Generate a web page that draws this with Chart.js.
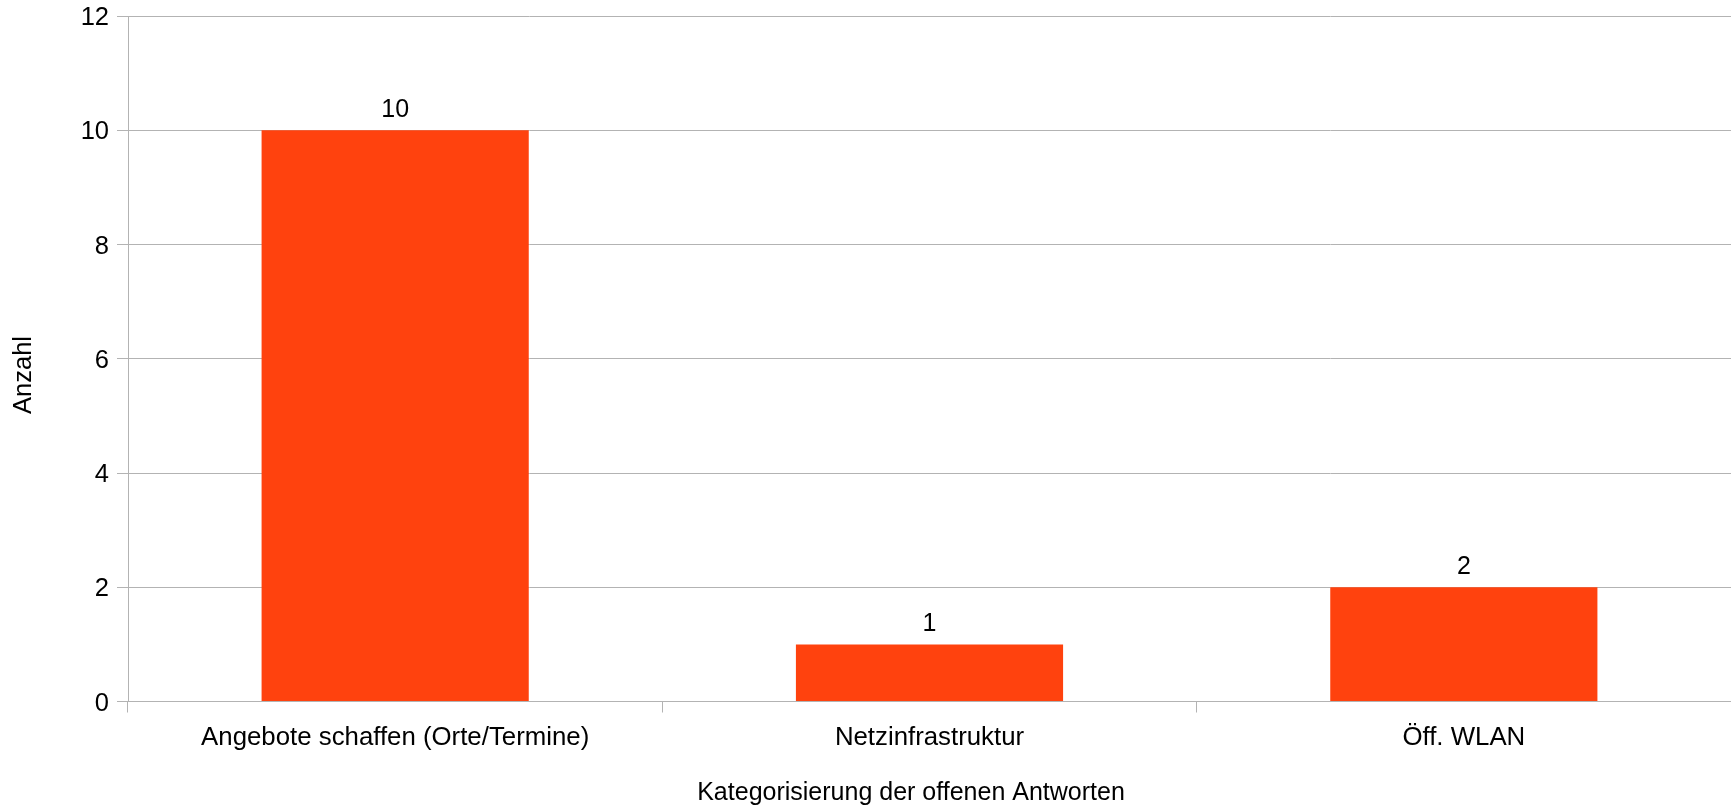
<!DOCTYPE html>
<html>
<head>
<meta charset="utf-8">
<script src="https://cdn.jsdelivr.net/npm/chart.js@4/dist/chart.umd.min.js"></script>
<style>
  html, body { margin: 0; padding: 0; background: #ffffff; }
  canvas { display: block; }
</style>
</head>
<body>
<canvas id="chart" width="1731" height="807"></canvas>
<script>
// Survey answers grouped by category
const categories = ['Angebote schaffen (Orte/Termine)', 'Netzinfrastruktur', 'Öff. WLAN'];
const counts = [10, 1, 2];
const yTickValues = [0, 2, 4, 6, 8, 10, 12];
const xAxisTitle = 'Kategorisierung der offenen Antworten';
const yAxisTitle = 'Anzahl';

const FONT_FAMILY = '"Liberation Sans", Arial, sans-serif';
const GRID_COLOR = '#b3b3b3';
const BAR_COLOR = '#ff420e';

Chart.defaults.font.family = FONT_FAMILY;
Chart.defaults.color = '#000000';

// Writes each bar's value just above it
const valueLabels = {
  id: 'valueLabels',
  afterDatasetsDraw(chart) {
    const ctx = chart.ctx;
    const meta = chart.getDatasetMeta(0);
    ctx.save();
    ctx.font = '25px ' + FONT_FAMILY;
    ctx.fillStyle = '#000000';
    ctx.textAlign = 'center';
    ctx.textBaseline = 'alphabetic';
    meta.data.forEach((bar, i) => {
      ctx.fillText(String(counts[i]), bar.x, bar.y - 13);
    });
    ctx.restore();
  }
};

// Axis titles, placed relative to the plot area
const axisTitles = {
  id: 'axisTitles',
  afterDraw(chart) {
    const ctx = chart.ctx;
    const area = chart.chartArea;
    ctx.save();
    ctx.fillStyle = '#000000';
    ctx.textAlign = 'center';
    ctx.textBaseline = 'middle';

    ctx.font = '25px ' + FONT_FAMILY;
    ctx.fillText(xAxisTitle, area.left + 783, chart.height - 14);

    ctx.font = '25.5px ' + FONT_FAMILY;
    ctx.translate(24, area.top + 359);
    ctx.rotate(-Math.PI / 2);
    ctx.fillText(yAxisTitle, 0, 0);
    ctx.restore();
  }
};

new Chart(document.getElementById('chart'), {
  type: 'bar',
  data: {
    labels: categories,
    datasets: [{
      data: counts,
      backgroundColor: BAR_COLOR,
      borderWidth: 0,
      categoryPercentage: 1.0,
      barPercentage: 0.5
    }]
  },
  options: {
    responsive: false,
    animation: false,
    layout: { padding: { top: 16, left: 0, right: 0, bottom: 0 } },
    plugins: {
      legend: { display: false },
      tooltip: { enabled: false }
    },
    scales: {
      x: {
        grid: {
          offset: true,
          drawOnChartArea: false,
          drawTicks: true,
          tickLength: 11,
          color: GRID_COLOR,
          lineWidth: 1
        },
        border: { color: GRID_COLOR, width: 1 },
        ticks: {
          color: '#000000',
          font: { size: 25.8 },
          padding: 10,
          maxRotation: 0,
          autoSkip: false
        },
        afterFit(scale) {
          scale.height = 105.5;
          scale.paddingLeft = 0;
          scale.paddingRight = 0;
        }
      },
      y: {
        min: 0,
        max: 12,
        afterBuildTicks(scale) {
          scale.ticks = yTickValues.map(v => ({ value: v }));
        },
        grid: {
          color: GRID_COLOR,
          lineWidth: 1,
          drawTicks: true,
          tickLength: 11
        },
        border: { color: GRID_COLOR, width: 1 },
        ticks: {
          color: '#000000',
          font: { size: 25.5 },
          padding: 8,
          labelOffset: 2
        },
        afterFit(scale) {
          scale.width = 128;
          scale.paddingTop = 0;
          scale.paddingBottom = 0;
        }
      }
    }
  },
  plugins: [valueLabels, axisTitles]
});
</script>
</body>
</html>
